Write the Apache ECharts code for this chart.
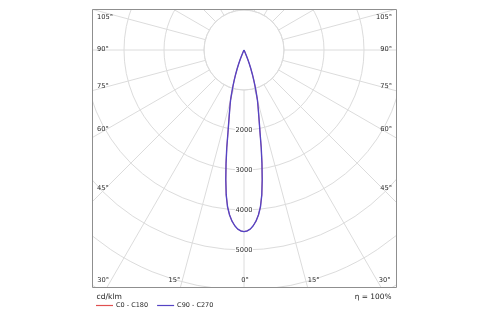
<!DOCTYPE html>
<html><head><meta charset="utf-8">
<script src="https://cdn.jsdelivr.net/npm/echarts@6/dist/echarts.min.js"></script>
<style>html,body{margin:0;padding:0;background:#fff}#c{width:500px;height:325px}</style>
</head><body><div id="c"></div>
<script>
// ---- data ----
const gammaDeg = [0, 1, 2, 3, 4, 5, 6, 7, 8, 9, 10, 11, 12, 13, 14, 15, 16, 17, 18, 19, 20, 21, 22, 23, 24, 25, 30, 45, 60, 90, 120, 150, 180];
const intensityC0C180 = [4540, 4525, 4480, 4400, 4290, 4140, 3940, 3650, 3270, 2870, 2480, 2100, 1830, 1620, 1450, 1300, 1110, 940, 790, 640, 500, 370, 250, 140, 60, 0, 0, 0, 0, 0, 0, 0, 0];
const intensityC90C270 = [4540, 4525, 4480, 4400, 4290, 4140, 3940, 3650, 3270, 2870, 2480, 2100, 1830, 1620, 1450, 1300, 1110, 940, 790, 640, 500, 370, 250, 140, 60, 0, 0, 0, 0, 0, 0, 0, 0];
const seriesNames = ['C0 - C180', 'C90 - C270'];
const seriesColors = ['#e05050', '#5544c4'];
const ringMin = 1000, ringMax = 8000, ringStep = 1000;
const ringLabels = ['2000', '3000', '4000', '5000'];
const angleTicks = [0, 15, 30, 45, 60, 75, 90, 105];
const unitLabel = 'cd/klm';
const efficiencyLabel = '\u03b7 = 100%';

// ---- layout ----
const W = 500, H = 325;
const cx = 244, cy = 50;
const pxPer1000 = 40;
const frame = {l: 92, t: 9, r: 396, b: 287};
const font = '"DejaVu Sans", Verdana, sans-serif';
const rOuter = pxPer1000 * ringMax / 1000;

function mirror(I) {
  const pts = [];
  for (let i = gammaDeg.length - 1; i >= 0; i--) pts.push([I[i], 360 - gammaDeg[i]]);
  for (let i = 0; i < gammaDeg.length; i++) pts.push([I[i], gammaDeg[i]]);
  return pts;
}

const graphics = [
  {type:'rect', z:100, shape:{x:0,y:0,width:frame.l,height:H}, style:{fill:'#fff'}},
  {type:'rect', z:100, shape:{x:frame.r,y:0,width:W-frame.r,height:H}, style:{fill:'#fff'}},
  {type:'rect', z:100, shape:{x:0,y:0,width:W,height:frame.t}, style:{fill:'#fff'}},
  {type:'rect', z:100, shape:{x:0,y:frame.b,width:W,height:H-frame.b}, style:{fill:'#fff'}},
  {type:'rect', z:101, shape:{x:frame.l+0.5,y:frame.t+0.5,width:frame.r-frame.l,height:frame.b-frame.t}, style:{fill:null, stroke:'#8f8f8f', lineWidth:1}}
];
const labelFont = '6.7px ' + font;
const labelColor = '#2a2a2a';
const bottomY = 280;
angleTicks.forEach(g => {
  const txt = g + '\u00b0';
  const rad = g * Math.PI / 180;
  const bx = (bottomY - cy) * Math.tan(rad);
  if (g < 90 && cx - bx >= frame.l + 5) {
    if (g === 0) {
      graphics.push({type:'text', z:102, style:{text:txt, x:cx + 1, y:bottomY, align:'center', verticalAlign:'middle', font:labelFont, fill:labelColor}});
    } else {
      graphics.push({type:'text', z:102, style:{text:txt, x:cx - bx - 2, y:bottomY, align:'right', verticalAlign:'middle', font:labelFont, fill:labelColor}});
      graphics.push({type:'text', z:102, style:{text:txt, x:cx + bx + 2, y:bottomY, align:'left', verticalAlign:'middle', font:labelFont, fill:labelColor}});
    }
  } else {
    const d = cx - 104;
    let y = cy + d / Math.tan(rad) - 1.5;
    if (g === 90) y = cy - 0.5;
    y = Math.max(y, frame.t + 8);
    graphics.push({type:'text', z:102, style:{text:txt, x:frame.l + 5, y:y, align:'left', verticalAlign:'middle', font:labelFont, fill:labelColor}});
    graphics.push({type:'text', z:102, style:{text:txt, x:frame.r - 4, y:y, align:'right', verticalAlign:'middle', font:labelFont, fill:labelColor}});
  }
});
graphics.push({type:'text', z:102, style:{text:unitLabel, x:96.5, y:297.5, align:'left', verticalAlign:'middle', font:'7.6px ' + font, fill:'#1e1e1e'}});
graphics.push({type:'text', z:102, style:{text:efficiencyLabel, x:391.5, y:297.5, align:'right', verticalAlign:'middle', font:'7.4px ' + font, fill:'#1e1e1e'}});

const chart = echarts.init(document.getElementById('c'), null, {renderer:'canvas'});
chart.setOption({
  animation: false,
  backgroundColor: '#fff',
  polar: [
    {center:[cx, cy], radius:[pxPer1000 * ringMin / 1000, rOuter]},
    {center:[cx, cy], radius:[0, rOuter]}
  ],
  angleAxis: [
    {polarIndex:0, type:'value', min:0, max:360, interval:15, startAngle:270, clockwise:true,
     axisLine:{show:true, lineStyle:{color:'#dcdcdc', width:1}}, axisTick:{show:false}, axisLabel:{show:false},
     splitLine:{show:true, lineStyle:{color:'#dcdcdc', width:1}}},
    {polarIndex:1, type:'value', min:0, max:360, startAngle:270, clockwise:true,
     axisLine:{show:false}, axisTick:{show:false}, axisLabel:{show:false}, splitLine:{show:false}}
  ],
  radiusAxis: [
    {polarIndex:0, type:'value', min:ringMin, max:ringMax, interval:ringStep,
     axisLine:{show:false}, axisTick:{show:false},
     splitLine:{show:true, lineStyle:{color:'#dcdcdc', width:1}},
     axisLabel:{show:true, margin:0, rotate:0, align:'center', verticalAlign:'middle',
       fontFamily:font, fontSize:6.7, color:labelColor, backgroundColor:'#fff', padding:[0,0.5],
       formatter: v => ringLabels.indexOf(String(v)) >= 0 ? String(v) : ''}},
    {polarIndex:1, type:'value', min:0, max:ringMax,
     axisLine:{show:false}, axisTick:{show:false}, axisLabel:{show:false}, splitLine:{show:false}}
  ],
  legend: {
    z: 120, zlevel: 0,
    left: 96, top: 302, padding: 0, itemGap: 9, itemWidth: 17, itemHeight: 1.2, icon: 'rect',
    data: seriesNames,
    textStyle: {fontFamily: font, fontSize: 6.5, color: '#2a2a2a', padding: [0,0,0,-2]}
  },
  graphic: graphics,
  series: [
    {name: seriesNames[0], type:'line', coordinateSystem:'polar', polarIndex:1, data: mirror(intensityC0C180),
     showSymbol:false, symbol:'none', color: seriesColors[0], lineStyle:{width:0.8, color:seriesColors[0]}, itemStyle:{color:seriesColors[0]}},
    {name: seriesNames[1], type:'line', coordinateSystem:'polar', polarIndex:1, data: mirror(intensityC90C270),
     showSymbol:false, symbol:'none', color: seriesColors[1], lineStyle:{width:1.4, color:seriesColors[1]}, itemStyle:{color:seriesColors[1]}}
  ]
});
</script></body></html>
